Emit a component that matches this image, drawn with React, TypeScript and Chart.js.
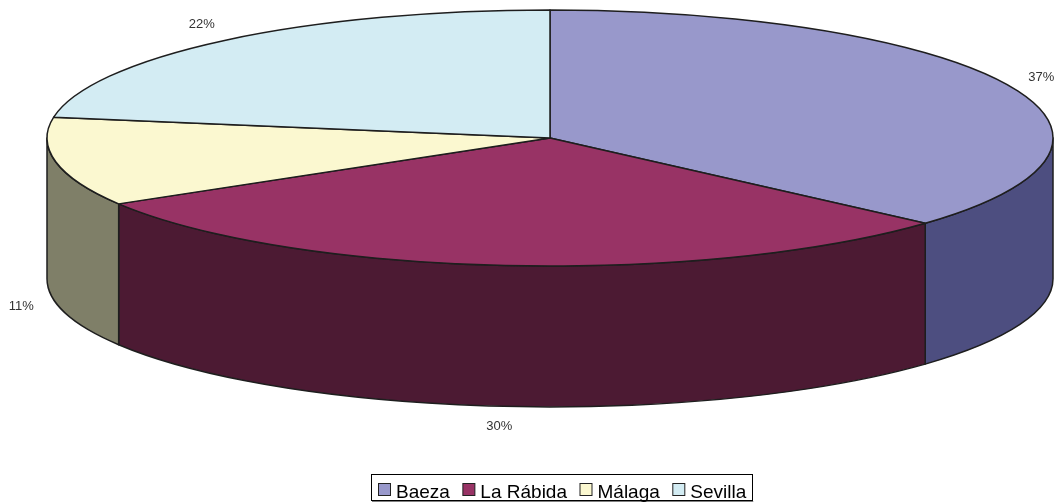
import React, { useEffect, useRef } from "react";
import { Chart, registerables } from "chart.js";

Chart.register(...registerables);

const labels = ["Baeza", "La Rábida", "Málaga", "Sevilla"];
const values = [36.6, 29.8, 11.2, 22.4];
const topColors = ["#9898cb", "#983365", "#fbf8d0", "#d3ecf3"];
const sideColors = ["#4d4e80", "#4c1a33", "#7f7f68", "#6a7679"];

const pie3d = {
  id: "pie3d",
  beforeDatasetsDraw(chart: any) {
    const ctx = chart.ctx;
    const meta = chart.getDatasetMeta(0);
    const ca = chart.chartArea;
    const rx = (ca.right - ca.left) / 2;
    const cx = ca.left + rx;
    const ry = rx * 0.2545;
    const depth = rx * 0.28;
    const cy = ca.top + ry;
    const total = values.reduce((a, b) => a + b, 0);
    ctx.save();
    ctx.lineWidth = 1.5;
    ctx.strokeStyle = "#1e1e1e";
    ctx.lineJoin = "round";
    // sides (visible front half only)
    meta.data.forEach((arc: any, i: number) => {
      const s = arc.startAngle;
      const e = arc.endAngle;
      for (const k of [-1, 0, 1]) {
        const a = Math.max(s, 2 * Math.PI * k);
        const b = Math.min(e, 2 * Math.PI * k + Math.PI);
        if (b > a) {
          ctx.beginPath();
          ctx.ellipse(cx, cy, rx, ry, 0, a, b, false);
          ctx.lineTo(cx + rx * Math.cos(b), cy + depth + ry * Math.sin(b));
          ctx.ellipse(cx, cy + depth, rx, ry, 0, b, a, true);
          ctx.closePath();
          ctx.fillStyle = sideColors[i];
          ctx.fill();
          ctx.stroke();
        }
      }
    });
    // top faces
    meta.data.forEach((arc: any, i: number) => {
      ctx.beginPath();
      ctx.moveTo(cx, cy);
      ctx.ellipse(cx, cy, rx, ry, 0, arc.startAngle, arc.endAngle, false);
      ctx.closePath();
      ctx.fillStyle = topColors[i];
      ctx.fill();
      ctx.stroke();
    });
    // percentage labels
    ctx.fillStyle = "#333333";
    ctx.font = "13px Arial";
    ctx.textAlign = "center";
    ctx.textBaseline = "middle";
    meta.data.forEach((arc: any, i: number) => {
      const m = (arc.startAngle + arc.endAngle) / 2;
      const sn = Math.sin(m);
      const x = cx + rx * 1.07 * Math.cos(m);
      const y = cy + ry * 1.16 * sn + (sn > 0 ? depth : 0);
      ctx.fillText(Math.round((values[i] / total) * 100) + "%", x, y);
    });
    ctx.restore();
    return false;
  },
  afterDraw(chart: any) {
    const ctx = chart.ctx;
    const items = chart.data.labels as string[];
    const colors = chart.data.datasets[0].backgroundColor as string[];
    ctx.save();
    ctx.font = "19px Arial";
    const box = 12;
    const boxGap = 5;
    const itemGap = 12.5;
    const widths = items.map((t) => ctx.measureText(t).width);
    const total =
      widths.reduce((a, b) => a + b, 0) + items.length * (box + 1 + boxGap) + (items.length - 1) * itemGap;
    const centerX = 562.5;
    const startX = Math.round(centerX - total / 2);
    const boxTop = 483;
    const baseline = 498;
    // legend frame
    ctx.strokeStyle = "#000";
    ctx.lineWidth = 1;
    const fl = startX - 7;
    const fr = startX + total + 6;
    ctx.strokeRect(fl + 0.5, 474.5, Math.round(fr - fl), 26);
    ctx.strokeStyle = "#808080";
    ctx.beginPath();
    ctx.moveTo(fl + 1, 501.5);
    ctx.lineTo(fr + 1, 501.5);
    ctx.stroke();
    let x = startX;
    items.forEach((t, i) => {
      ctx.fillStyle = colors[i];
      ctx.fillRect(x + 0.5, boxTop + 0.5, box, box);
      ctx.strokeStyle = "#222";
      ctx.strokeRect(x + 0.5, boxTop + 0.5, box, box);
      x += box + 1 + boxGap;
      ctx.fillStyle = "#000";
      ctx.textAlign = "left";
      ctx.textBaseline = "alphabetic";
      ctx.fillText(t, x, baseline);
      x += widths[i] + itemGap;
    });
    ctx.restore();
  },
};

export default function App() {
  const ref = useRef<HTMLCanvasElement>(null);
  useEffect(() => {
    Chart.defaults.font.family = "Arial";
    const chart = new Chart(ref.current as HTMLCanvasElement, {
      type: "pie",
      data: {
        labels,
        datasets: [
          {
            data: values,
            backgroundColor: topColors,
            borderColor: "#1e1e1e",
            borderWidth: 1,
          },
        ],
      },
      options: {
        animation: false,
        responsive: true,
        maintainAspectRatio: false,
        layout: { padding: { top: 10, left: 47, right: 6, bottom: 40 } },
        plugins: {
          legend: { display: false },
          tooltip: { enabled: false },
        },
      },
      plugins: [pie3d],
    } as any);
    return () => chart.destroy();
  }, []);
  return (
    <div style={{ position: "fixed", left: 0, top: 0, width: 1059, height: 504, background: "#fff" }}>
      <canvas ref={ref} />
    </div>
  );
}
